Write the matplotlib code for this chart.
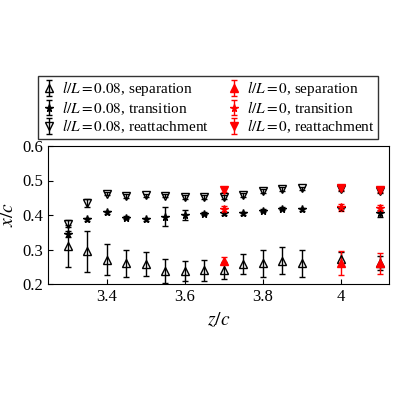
import matplotlib
matplotlib.use("Agg")
import matplotlib.pyplot as plt

plt.rcParams['font.family'] = ['Liberation Serif']
plt.rcParams['mathtext.fontset'] = 'stix'

z = [3.3,3.35,3.4,3.45,3.5,3.55,3.6,3.65,3.7,3.75,3.8,3.85,3.9,4.0,4.1]
sep = [0.31,0.295,0.27,0.26,0.258,0.238,0.238,0.24,0.24,0.258,0.26,0.268,0.26,0.272,0.26]
sep_e = [0.06,0.06,0.045,0.04,0.035,0.035,0.03,0.03,0.025,0.03,0.04,0.04,0.04,0.02,0.02]
tra = [0.345,0.388,0.408,0.392,0.387,0.395,0.4,0.404,0.405,0.405,0.413,0.418,0.416,0.42,0.405]
tra_e = [0.01,0.004,0.004,0.004,0.004,0.028,0.015,0.004,0.004,0.004,0.004,0.004,0.004,0.004,0.01]
rea = [0.375,0.435,0.462,0.455,0.457,0.456,0.452,0.452,0.452,0.458,0.47,0.475,0.477,0.475,0.47]
rea_e = [0.01,0.012,0.005,0.005,0.005,0.005,0.005,0.005,0.005,0.005,0.005,0.005,0.005,0.005,0.005]
z0 = [3.7,4.0,4.1]
sep0 = [0.268,0.26,0.26]; sep0_e = [0.01,0.035,0.03]
tra0 = [0.418,0.422,0.42]; tra0_e = [0.008,0.01,0.008]
rea0 = [0.473,0.478,0.472]; rea0_e = [0.005,0.005,0.005]

fig = plt.figure(figsize=(4,4), dpi=100)
ax = fig.add_axes([0.12, 0.29, 0.853, 0.345])
kw = dict(ls='none', capsize=2, elinewidth=1, ms=5.5)
ax.errorbar(z, sep, sep_e, fmt='^', color='k', mfc='none', label=r'$l/L=0.08$, separation', **kw)
ax.errorbar(z0, sep0, sep0_e, fmt='^', color='r', label=r'$l/L=0$, separation', **kw)
ax.errorbar(z, tra, tra_e, fmt='*', color='k', mfc='none', label=r'$l/L=0.08$, transition', **kw)
ax.errorbar(z0, tra0, tra0_e, fmt='*', color='r', label=r'$l/L=0$, transition', **kw)
ax.errorbar(z, rea, rea_e, fmt='v', color='k', mfc='none', label=r'$l/L=0.08$, reattachment', **kw)
ax.errorbar(z0, rea0, rea0_e, fmt='v', color='r', label=r'$l/L=0$, reattachment', **kw)
ax.set_xlim(3.25, 4.124)
ax.set_ylim(0.2, 0.6)
ax.set_xticks([3.4,3.6,3.8,4.0]); ax.set_xticklabels(['3.4','3.6','3.8','4'])
ax.set_yticks([0.2,0.3,0.4,0.5,0.6])
ax.tick_params(direction='in', labelsize=12, top=False, right=False)
ax.set_xlabel(r'$z/c$', fontsize=14)
ax.set_ylabel(r'$x/c$', fontsize=14)
h, l = ax.get_legend_handles_labels()
order = [0,2,4,1,3,5]
fig.legend([h[i] for i in order], [l[i] for i in order], ncol=2, loc='upper center',
           bbox_to_anchor=(0.52, 0.83), fontsize=11, fancybox=False, edgecolor='k',
           handlelength=1, handletextpad=0.3, columnspacing=1.2, borderpad=0.25, labelspacing=0.05)
fig.savefig('out.png', dpi=100)
